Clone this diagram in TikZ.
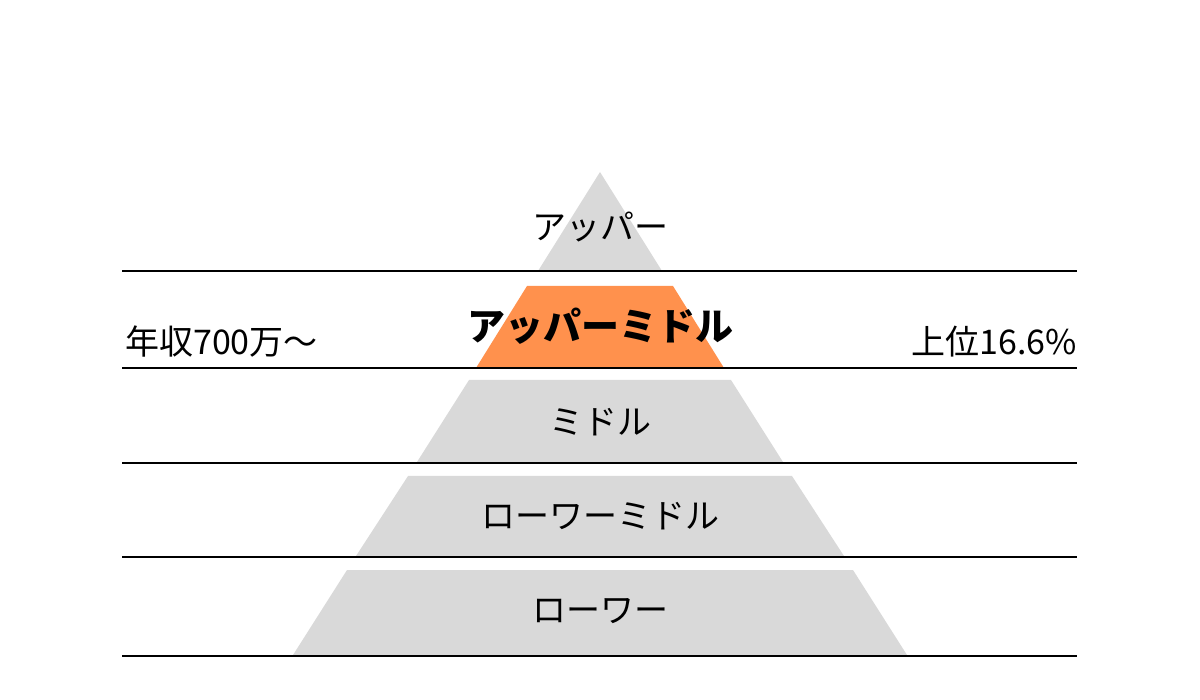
\documentclass[tikz,border=0pt]{standalone}
\usepackage{fontspec}
\setmainfont{Noto Sans CJK JP}
\definecolor{gr}{HTML}{D9D9D9}
\definecolor{og}{HTML}{FF914D}
\begin{document}
\begin{tikzpicture}[x=1pt,y=-1pt,
  band/.style={fill=gr,draw=none},
  sep/.style={line width=2.5pt},
  lbl/.style={font=\fontsize{34}{34}\selectfont,inner sep=0}]
\useasboundingbox (0,0) rectangle (1200,700);
\fill[gr] (600,172) -- (662,271) -- (538,271) -- cycle;
\fill[og] (527,286) -- (673,286) -- (724,368) -- (476,368) -- cycle;
\fill[gr] (469,380) -- (731,380) -- (783,462) -- (417,462) -- cycle;
\fill[gr] (408,476) -- (792,476) -- (844,556) -- (356,556) -- cycle;
\fill[gr] (347,570) -- (853,570) -- (907,655) -- (293,655) -- cycle;
\foreach \y/\n in {271/a,368/b,463/c,557/d,656/e}
  \draw[sep] (122,\y) coordinate (\n l) -- (1077,\y) coordinate (\n r);
\node[lbl] (t1) at (600,227) {アッパー};
\node[lbl,font=\fontsize{38}{38}\selectfont\bfseries] (t2) at (600,326) {アッパーミドル};
\node[lbl] (t3) at (600,422) {ミドル};
\node[lbl] (t4) at (600,516) {ローワーミドル};
\node[lbl] (t5) at (600,611) {ローワー};
\node[lbl,anchor=west] (l) at (125,342) {年収700万～};
\node[lbl,anchor=east] (r) at (1077,342) {上位16.6\%};
\end{tikzpicture}
\end{document}
